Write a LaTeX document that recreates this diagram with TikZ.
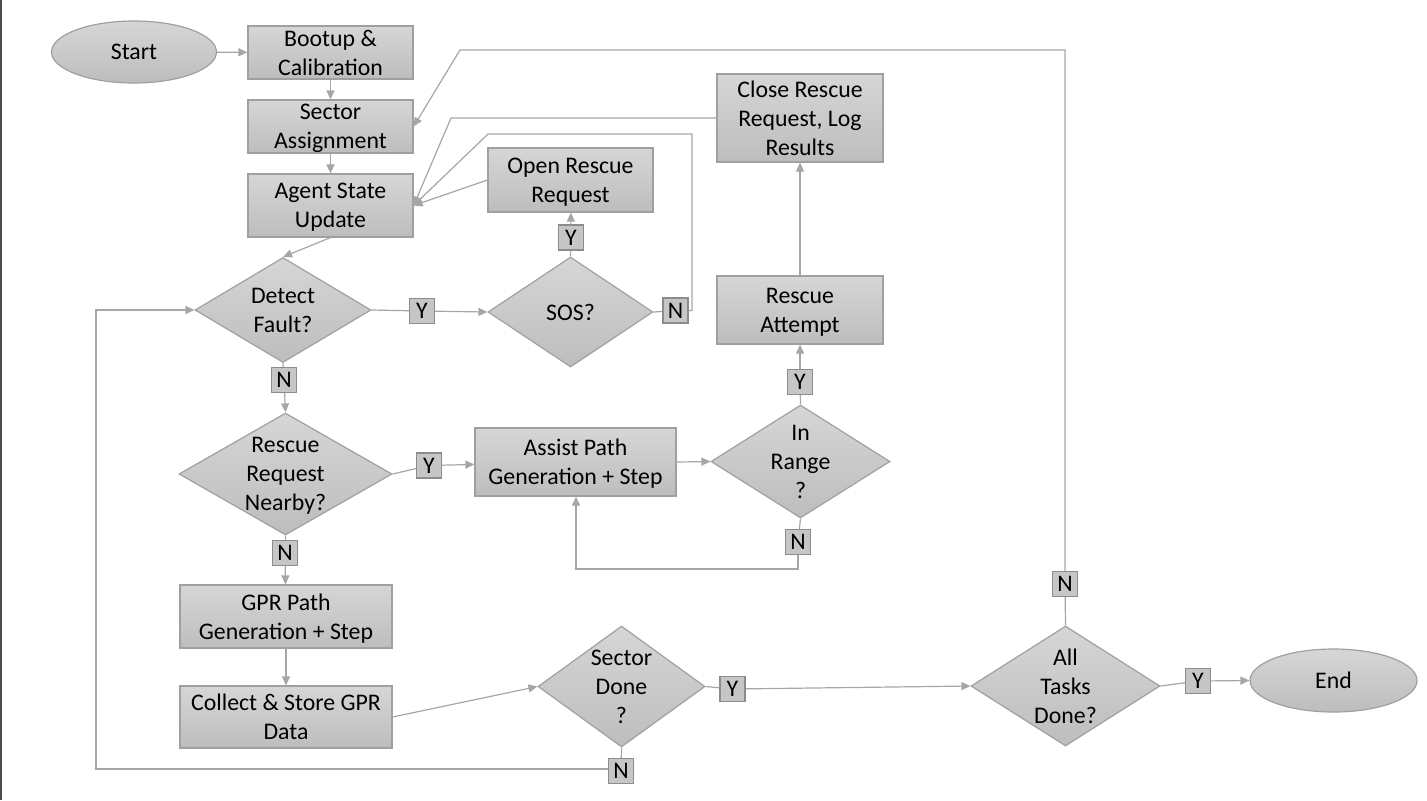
\documentclass[tikz,border=0pt]{standalone}
\usepackage{fontspec}
\setmainfont{Carlito}
\usepackage{tikz}
\usetikzlibrary{shapes.geometric, arrows.meta, positioning}
\definecolor{linegray}{HTML}{A6A6A6}
\definecolor{boxline}{HTML}{A0A0A0}
\definecolor{shadetop}{HTML}{D6D6D6}
\definecolor{shadebot}{HTML}{BDBDBD}
\definecolor{ynfill}{HTML}{C6C6C6}
\definecolor{ynline}{HTML}{8C8C8C}

\begin{document}
\begin{tikzpicture}[x=0.5pt, y=-0.5pt, >={Triangle[length=4.5pt, width=4pt]},
    font=\fontsize{11.9}{14.5}\selectfont,
    block/.style={rectangle, draw=boxline, line width=0.6pt, top color=shadetop, bottom color=shadebot, inner sep=0pt, align=center, text depth=0pt},
    term/.style={ellipse, draw=boxline, line width=0.6pt, top color=shadetop, bottom color=shadebot, inner sep=0pt},
    decision/.style={diamond, draw=boxline, line width=0.6pt, top color=shadetop, bottom color=shadebot, inner sep=0pt},
    dtext/.style={align=center, inner sep=0pt, text depth=0pt},
    yn/.style={rectangle, draw=ynline, line width=0.6pt, fill=ynfill, minimum size=12.5pt, inner sep=0pt},
    flow/.style={draw=linegray, line width=0.6pt}]
        \useasboundingbox (0,0) rectangle (1427,800);
        \draw[black!70, line width=1pt] (1,0) -- (1,800);

        \node[term, minimum width=82.5pt, minimum height=31pt] (start) at (134,52) {Start};
        \node[block, minimum width=82.5pt, minimum height=26.5pt] (boot) at (330.5,52.5) {Bootup \&\\Calibration};
        \node[block, minimum width=82.5pt, minimum height=26.5pt] (sector) at (330.5,126.5) {Sector\\Assignment};
        \node[block, minimum width=82.5pt, minimum height=31.5pt] (agent) at (330.5,205.5) {Agent State\\Update};
        \node[block, minimum width=82.5pt, minimum height=32pt] (open) at (570.5,180) {Open Rescue\\Request};
        \node[block, minimum width=83pt, minimum height=44pt] (close) at (800,118) {Close Rescue\\Request, Log\\Results};
        \node[block, minimum width=83pt, minimum height=34pt] (attempt) at (800,310) {Rescue\\Attempt};
        \node[block, minimum width=100.5pt, minimum height=34pt] (assist) at (575.5,462) {Assist Path\\Generation + Step};
        \node[block, minimum width=106pt, minimum height=31.5pt] (gpr) at (286,616.5) {GPR Path\\Generation + Step};
        \node[block, minimum width=106pt, minimum height=31pt] (collect) at (286,717) {Collect \& Store GPR\\Data};
        \node[term, minimum width=83.5pt, minimum height=31.5pt] (end) at (1333.5,680.5) {End};

        \node[decision, minimum width=88pt, minimum height=52.5pt] (detect) at (283,310) {};
        \node[dtext] (detectTxt) at (detect) {Detect\\Fault?};
        \node[decision, minimum width=82.5pt, minimum height=55pt] (sos) at (570.5,312) {};
        \node[dtext] (sosTxt) at (sos) {SOS?};
        \node[decision, minimum width=106.5pt, minimum height=61pt] (rescue) at (285.5,474) {};
        \node[dtext] (rescueTxt) at (rescue) {Rescue\\Request\\Nearby?};
        \node[decision, minimum width=89.5pt, minimum height=56.5pt] (range) at (800.5,461.5) {};
        \node[dtext] (rangeTxt) at (range) {In\\Range\\?};
        \node[decision, minimum width=83.5pt, minimum height=60.5pt] (sdone) at (621.5,686.5) {};
        \node[dtext] (sdoneTxt) at (sdone) {Sector\\Done\\?};
        \node[decision, minimum width=94.5pt, minimum height=60pt] (alltasks) at (1065.5,686) {};
        \node[dtext] (alltasksTxt) at (alltasks) {All\\Tasks\\Done?};

        \node[yn] (yDF) at (422,311) {Y};
        \node[yn] (nDF) at (284,380) {N};
        \node[yn] (ySOS) at (571,237.5) {Y};
        \node[yn] (nSOS) at (675.5,310.5) {N};
        \node[yn] (yRR) at (429,465.5) {Y};
        \node[yn] (nRR) at (285,553) {N};
        \node[yn] (yIR) at (800,382) {Y};
        \node[yn] (nIR) at (798,542) {N};
        \node[yn] (ySD) at (732.5,689) {Y};
        \node[yn] (nSD) at (621,771) {N};
        \node[yn] (nAT) at (1065,584) {N};
        \node[yn] (yAT) at (1198,681) {Y};

        \coordinate (topKnee) at (460,50);
        \coordinate (closeKnee) at (451,118);
        \coordinate (sosTurn) at (692,134);
        \coordinate (sosKnee) at (488,134);
        \coordinate (irLoop) at (576,569);
        \coordinate (sdLoop) at (96,769);

        \draw[flow, ->] (start) -- (boot);
        \draw[flow, ->] (boot) -- (sector);
        \draw[flow, ->] (sector) -- (agent);
        \draw[flow, ->] (agent.south) -- (detect.north);
        \draw[flow] (detect.east) -- (yDF);
        \draw[flow, ->] (yDF) -- (sos.west);
        \draw[flow] (sos.north) -- (ySOS);
        \draw[flow, ->] (ySOS) -- (open);
        \draw[flow] (sos.east) -- (nSOS);
        \draw[flow, ->] (nSOS.east) -| (sosTurn) -- (sosKnee) -- (agent.east);
        \draw[flow, ->] (open.west) -- (agent.east);
        \draw[flow, ->] (close.west) -- (closeKnee) -- (agent.east);
        \draw[flow] (detect.south) -- (nDF);
        \draw[flow, ->] (nDF) -- (rescue.north);
        \draw[flow] (rescue.east) -- (yRR);
        \draw[flow, ->] (yRR) -- (assist);
        \draw[flow, ->] (assist.east) -- (range.west);
        \draw[flow] (range.north) -- (yIR);
        \draw[flow, ->] (yIR) -- (attempt);
        \draw[flow, ->] (attempt) -- (close);
        \draw[flow] (range.south) -- (nIR);
        \draw[flow, ->] (nIR.south) |- (irLoop) -- (irLoop |- assist.south);
        \draw[flow] (rescue.south) -- (nRR);
        \draw[flow, ->] (nRR) -- (gpr);
        \draw[flow, ->] (gpr) -- (collect);
        \draw[flow, ->] (collect.east) -- (sdone.west);
        \draw[flow] (sdone.south) -- (nSD);
        \draw[flow, ->] (nSD.west |- sdLoop) -- (sdLoop) |- (detect.west);
        \draw[flow] (sdone.east) -- (ySD);
        \draw[flow, ->] (ySD) -- (alltasks.west);
        \draw[flow] (alltasks.north) -- (nAT);
        \draw[flow, ->] (nAT.north) |- (topKnee) -- (sector.east);
        \draw[flow] (alltasks.east) -- (yAT);
        \draw[flow, ->] (yAT) -- (end.west);
    \end{tikzpicture}
\end{document}
